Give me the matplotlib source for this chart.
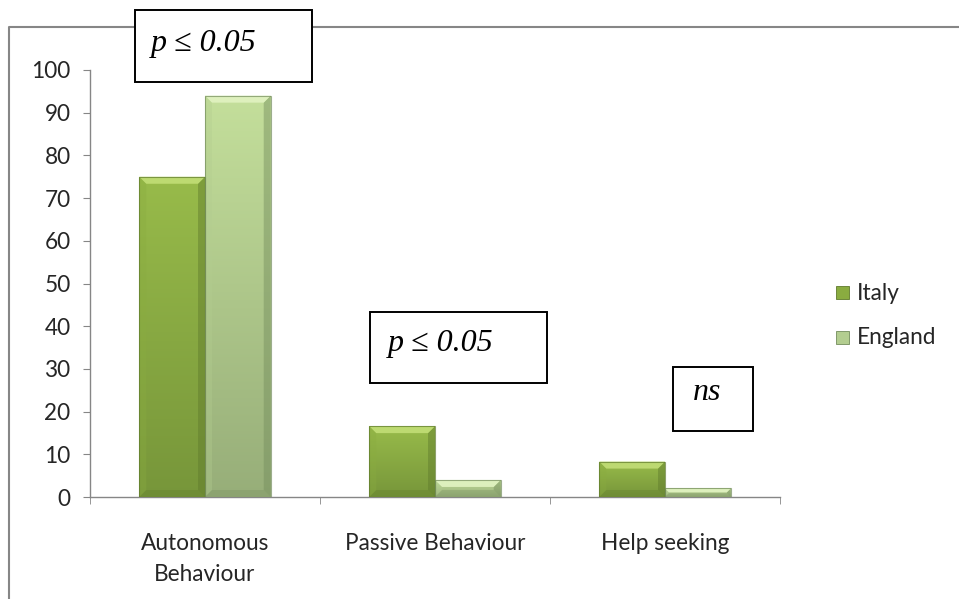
import numpy as np
import matplotlib
matplotlib.use("Agg")
import matplotlib.pyplot as plt
from matplotlib.patches import Rectangle, Polygon
from matplotlib.lines import Line2D
from matplotlib.colors import LinearSegmentedColormap

categories = ["Autonomous\nBehaviour", "Passive Behaviour", "Help seeking"]
series_names = ["Italy", "England"]
italy = [75, 16.6, 8.3]
england = [94, 4, 2]
y_ticks = [0, 10, 20, 30, 40, 50, 60, 70, 80, 90, 100]
annotations = ["p \u2264 0.05", "p \u2264 0.05", "ns"]

W, H = 959, 599
fig = plt.figure(figsize=(W / 100, H / 100), dpi=100)
fig.patch.set_facecolor("white")

def fx(px):
    return px / W

def fy(py):
    return 1 - py / H

ax = fig.add_axes([fx(90), fy(497), fx(780) - fx(90), fy(70) - fy(497)])
ax.set_xlim(0, 3)
ax.set_ylim(0, 100)

label_font = ["Lato", "DejaVu Sans"]
label_size = 16.3
text_color = "#262626"
grey = "#868686"

for side in ["top", "right"]:
    ax.spines[side].set_visible(False)
for side in ["left", "bottom"]:
    ax.spines[side].set_color(grey)
    ax.spines[side].set_linewidth(1.0)

ax.set_yticks(y_ticks)
ax.set_yticklabels([str(v) for v in y_ticks], fontsize=label_size, family=label_font, color=text_color)
ax.tick_params(axis="y", direction="out", length=5, color=grey, pad=9)

centers = np.arange(len(categories)) + 0.5
ax.set_xticks(centers)
ax.set_xticklabels(categories, fontsize=label_size, family=label_font, color=text_color, linespacing=1.6)
ax.tick_params(axis="x", which="major", length=0, pad=26)
ax.set_xticks(np.arange(len(categories) + 1), minor=True)
ax.tick_params(axis="x", which="minor", direction="out", length=5, color=grey)

bar_w = 1 / 3.5
palettes = {
    "Italy": dict(top="#98bb4a", bottom="#77963a", light="#c0dc74", dark="#5f7a2c", side="#8aac40"),
    "England": dict(top="#c4df9b", bottom="#97ae79", light="#e0f2c0", dark="#738c5c", side="#b3cd90"),
}

# pixel to data conversion for the bevel width
px_x = 3 / (780 - 90)
px_y = 100 / (497 - 70)

def bevel_bar(x0, height, pal, label):
    rect = ax.bar(x0, height, width=bar_w, align="edge", color=pal["top"],
                  edgecolor="none", label=label, zorder=2)[0]
    x1 = x0 + bar_w
    # vertical gradient fill
    cmap = LinearSegmentedColormap.from_list("g", [pal["bottom"], pal["top"]])
    grad = np.linspace(0, 1, 256).reshape(-1, 1)
    im = ax.imshow(grad, extent=[x0, x1, 0, height], origin="lower", cmap=cmap,
                   aspect="auto", zorder=3, interpolation="bicubic")
    im.set_clip_path(rect)
    b = min(7, height / px_y / 2.2)
    bx, by = b * px_x, b * px_y
    top = [(x0, height), (x1, height), (x1 - bx, height - by), (x0 + bx, height - by)]
    left = [(x0, 0), (x0, height), (x0 + bx, height - by), (x0 + bx, by)]
    right = [(x1, 0), (x1, height), (x1 - bx, height - by), (x1 - bx, by)]
    bottom = [(x0, 0), (x1, 0), (x1 - bx, by), (x0 + bx, by)]
    ax.add_patch(Polygon(left, closed=True, facecolor=pal["side"], edgecolor="none", alpha=0.35, zorder=4))
    ax.add_patch(Polygon(right, closed=True, facecolor=pal["dark"], edgecolor="none", alpha=0.45, zorder=4))
    ax.add_patch(Polygon(bottom, closed=True, facecolor=pal["dark"], edgecolor="none", alpha=0.3, zorder=4))
    ax.add_patch(Polygon(top, closed=True, facecolor=pal["light"], edgecolor="none", alpha=0.95, zorder=4))
    ax.add_patch(Rectangle((x0, 0), bar_w, height, facecolor="none",
                           edgecolor=pal["dark"], linewidth=0.8, alpha=0.7, zorder=5))

gap = (1 - 2 * bar_w) / 2
for i, (vi, ve) in enumerate(zip(italy, england)):
    bevel_bar(i + gap, vi, palettes["Italy"], "Italy" if i == 0 else None)
    bevel_bar(i + gap + bar_w, ve, palettes["England"], "England" if i == 0 else None)

ax.set_facecolor("white")

# chart area frame
fig.add_artist(Line2D([fx(9), fx(9), 1.0], [0, fy(27), fy(27)], color=grey,
                      linewidth=1.5, transform=fig.transFigure, zorder=1))

# significance boxes
serif = ["Liberation Serif", "DejaVu Serif"]
boxes = [
    (135, 10, 312, 82, 151, 43),
    (370, 312, 547, 383, 388, 344),
    (673, 367, 753, 431, 693, 392),
]
for (l, t, r, b, tx, ty), txt in zip(boxes, annotations):
    fig.add_artist(Rectangle((fx(l), fy(b)), fx(r) - fx(l), fy(t) - fy(b),
                             transform=fig.transFigure, facecolor="white",
                             edgecolor="black", linewidth=1.4, zorder=10))
    fig.text(fx(tx), fy(ty), txt, fontsize=23, family=serif, style="italic",
             ha="left", va="center", zorder=11)

# legend
legend_items = [("Italy", palettes["Italy"], 293), ("England", palettes["England"], 338)]
for name, pal, cy in legend_items:
    fig.add_artist(Rectangle((fx(836), fy(cy + 6)), fx(13), 13 / H,
                             transform=fig.transFigure, facecolor=pal["side"],
                             edgecolor=pal["dark"], linewidth=0.6, zorder=10))
    fig.text(fx(857), fy(cy), name, fontsize=label_size, family=label_font,
             color=text_color, ha="left", va="center")

fig.savefig("out.png", dpi=100)
